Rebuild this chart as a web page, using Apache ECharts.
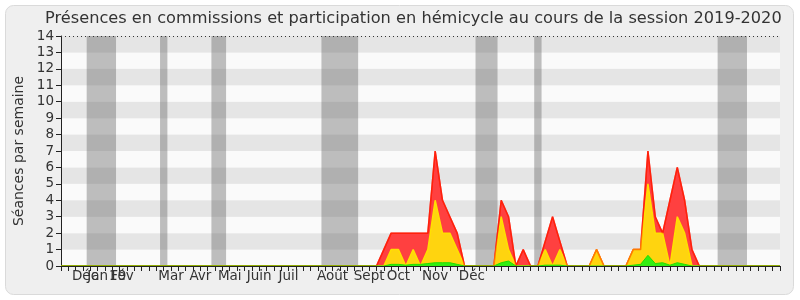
<!DOCTYPE html>
<html><head><meta charset="utf-8">
<script src="https://cdn.jsdelivr.net/npm/echarts@6/dist/echarts.min.js"></script>
<style>html,body{margin:0;padding:0;background:#fff}#c{width:800px;height:300px}</style>
</head><body><div id="c"></div>
<script>
// week index 0..98 (x axis), values per week
const totalSeances = [
0,0,0,0,0,0,0,0,0,0, 0,0,0,0,0,0,0,0,0,0, 0,0,0,0,0,0,0,0,0,0, 0,0,0,0,0,0,0,0,0,0,
0,0,0,0,1,2,2,2,2,2, 2,7,4,3,2,0,0,0,0,0, 4,3,0,1,0,0,1.5,3,1.5,0, 0,0,0,1,0,0,0,0,1,1,
7,3,2,4,6,4,1,0,0,0, 0,0,0,0,0,0,0,0,0];
const hemicycle = [
0,0,0,0,0,0,0,0,0,0, 0,0,0,0,0,0,0,0,0,0, 0,0,0,0,0,0,0,0,0,0, 0,0,0,0,0,0,0,0,0,0,
0,0,0,0,0,1,1,0,1,0, 1,4,2,2,1,0,0,0,0,0, 3,1,0,0,0,0,1,0,1,0, 0,0,0,1,0,0,0,0,1,1,
5,2,2,0,3,2,0,0,0,0, 0,0,0,0,0,0,0,0,0];
const questions = [
0,0,0,0,0,0,0,0,0,0, 0,0,0,0,0,0,0,0,0,0, 0,0,0,0,0,0,0,0,0,0, 0,0,0,0,0,0,0,0,0,0,
0,0,0,0,0,0.1,0.1,0.05,0.1,0.1, 0.15,0.2,0.2,0.2,0.1,0,0,0,0,0, 0.2,0.3,0,0,0,0,0.05,0.05,0.05,0, 0,0,0,0,0,0,0,0,0.05,0.1,
0.65,0.15,0.2,0.05,0.2,0.1,0,0,0,0, 0,0,0,0,0,0,0,0,0];
const vacances = [[3.5,7.5],[13.5,14.5],[20.5,22.5],[35.5,40.5],[56.5,59.5],[64.5,65.5],[89.5,93.5]];
const monthWeeks = [3,5,8,9,15,19,23,27,31,37,42,46,51,56];
const monthNames = ['Déc','Jan','19','Fév','Mar','Avr','Mai','Juin','Juil','Août','Sept','Oct','Nov','Déc'];
const labelNudge = {3:2, 8:-2, 9:-5}; // px shift
const yTicks = [0,1,2,3,4,5,6,7,8,9,10,11,12,13,14];

const FONT = 'DejaVu Sans';
const FS = 13.5;
const rich = {};
Object.keys(labelNudge).forEach(k => {
  const s = labelNudge[k];
  rich['n'+k] = {fontSize:FS, color:'#333', fontFamily:FONT, padding: s>0 ? [0,0,0,2*s] : [0,-2*s,0,0]};
});
const toPairs = arr => arr.map((v,i)=>[i,v]);
const chart = echarts.init(document.getElementById('c'), null, {renderer:'canvas'});
chart.setOption({
  animation:false,
  textStyle:{fontFamily:FONT},
  graphic:[{type:'rect', z:-10, silent:true, shape:{x:5.5,y:5.5,width:788,height:289,r:8},
    style:{fill:'#efefef', stroke:'#dadada', lineWidth:1}}],
  title:{text:'Présences en commissions et participation en hémicycle au cours de la session 2019-2020',
    left:40, top:6, textStyle:{fontFamily:FONT, fontSize:16.2, fontWeight:'normal', color:'#333'}},
  grid:{left:61, right:20, top:36, bottom:34},
  xAxis:{type:'value', min:0, max:98, interval:1, z:10,
    axisLine:{show:true, lineStyle:{color:'#222'}},
    axisTick:{show:true, length:5, lineStyle:{color:'#222'}},
    splitLine:{show:false},
    axisLabel:{fontSize:FS, color:'#333', margin:3, fontFamily:FONT, rich:rich,
      formatter:function(v){ const i = monthWeeks.indexOf(v); if(i<0) return '';
        return labelNudge[v]!==undefined ? '{n'+v+'|'+monthNames[i]+'}' : monthNames[i]; }}},
  yAxis:{type:'value', min:0, max:14, interval:1,
    name:'Séances par semaine', nameLocation:'middle', nameGap:35,
    nameTextStyle:{fontSize:14, color:'#333', fontFamily:FONT},
    axisLine:{show:true, lineStyle:{color:'#222'}},
    axisTick:{show:true, length:5, lineStyle:{color:'#222'}},
    axisLabel:{fontSize:FS, color:'#333', margin:7, fontFamily:FONT,
      formatter:function(v){ return yTicks.indexOf(v)>=0 ? String(v) : ''; }},
    splitLine:{show:false},
    splitArea:{show:true, areaStyle:{color:['#fafafa','#e5e5e5']}}},
  series:[
    {type:'line', data:toPairs(totalSeances), symbol:'none', z:3,
      lineStyle:{color:'#ff1a1a', width:1.5}, areaStyle:{color:'#ff4040', opacity:1},
      markArea:{silent:true, itemStyle:{color:'rgba(90,90,90,0.38)'},
        data: vacances.map(v=>[{xAxis:v[0]},{xAxis:v[1]}])},
      markLine:{silent:true, symbol:'none', label:{show:false},
        lineStyle:{type:[1,3], color:'#333', width:1}, data:[{yAxis:14}]}},
    {type:'line', data:toPairs(hemicycle), symbol:'none', z:4,
      lineStyle:{color:'#ffe000', width:1.5}, areaStyle:{color:'#ffd40f', opacity:1}},
    {type:'line', data:toPairs(totalSeances), symbol:'none', z:5,
      lineStyle:{color:'rgba(255,40,0,0.55)', width:1.5}},
    {type:'line', data:toPairs(questions), symbol:'none', z:6,
      lineStyle:{color:'#22dd00', width:1}, areaStyle:{color:'#33ee11', opacity:1}}
  ]
});
</script></body></html>
